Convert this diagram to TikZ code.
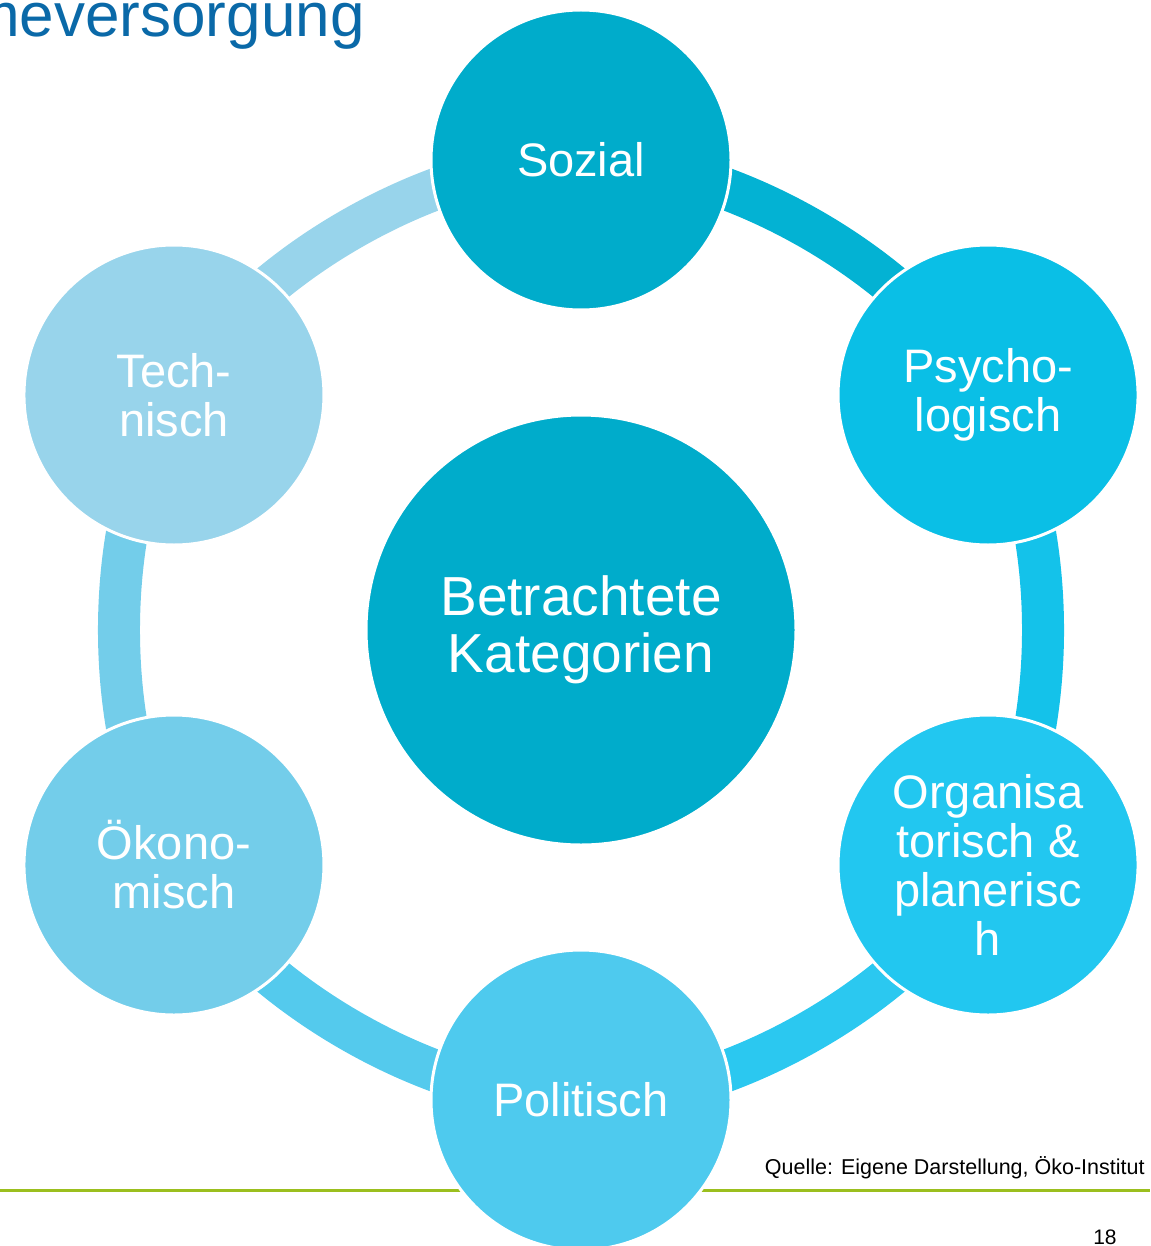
\documentclass[tikz,border=0pt]{standalone}
\usepackage{fontspec}
\setmainfont{Liberation Sans}
\definecolor{titlecolor}{HTML}{0A69A8}
\definecolor{sozialcolor}{HTML}{00ACCB}
\definecolor{psychocolor}{HTML}{0ABFE6}
\definecolor{orgacolor}{HTML}{22C7F0}
\definecolor{politcolor}{HTML}{4ECAEE}
\definecolor{oekocolor}{HTML}{73CDEA}
\definecolor{techcolor}{HTML}{98D4EB}
\definecolor{rulecolor}{HTML}{9BBF1E}
\usetikzlibrary{backgrounds}
\tikzset{
	cat/.style={
		circle,
		draw=white,
		line width=1.5pt,
		minimum size=150pt,
		inner sep=0pt,
		text=white,
		align=center,
		font=\fontsize{23.5}{24.5}\selectfont
	},
	core/.style={
		cat,
		minimum size=215pt,
		font=\fontsize{27.5}{28.5}\selectfont
	},
	link/.style={
		line width=21pt,
		bend left=30,
		looseness=0.8
	},
	caption/.style={
		inner sep=0pt,
		text=black
	},
}

\begin{document}
\begin{tikzpicture}[x=0.5pt,y=-0.5pt]
\path[use as bounding box,clip] (0,0) rectangle (1150,1246);

% title, cut at the left edge
\node [caption,anchor=base east,text=titlecolor,font=\fontsize{31}{37}\selectfont] (title) at (365,37) {meversorgung};

% center and the six categories
\node [core,fill=sozialcolor] (ctr) at (581,630) {Betrachtete\\Kategorien};
\node [cat,fill=sozialcolor] (soz) at ([shift={(-90:470)}]ctr.center) {Sozial};
\node [cat,fill=psychocolor] (psy) at ([shift={(-30:470)}]ctr.center) {Psycho-\\logisch};
\node [cat,fill=orgacolor] (org) at ([shift={(30:470)}]ctr.center) {Organisa\\torisch \&\\planerisc\\h};
\node [cat,fill=politcolor] (pol) at ([shift={(90:470)}]ctr.center) {Politisch};
\node [cat,fill=oekocolor] (oek) at ([shift={(150:470)}]ctr.center) {Ökono-\\misch};
\node [cat,fill=techcolor] (tec) at ([shift={(210:470)}]ctr.center) {Tech-\\nisch};

\begin{scope}[on background layer]
\draw[rulecolor,line width=1.5pt] (0,1190.7) -- (1150,1190.7);
\draw[link,draw=sozialcolor!70!psychocolor] (soz.center) to (psy.center);
\draw[link,draw=psychocolor!60!orgacolor] (psy.center) to (org.center);
\draw[link,draw=orgacolor!80!politcolor] (org.center) to (pol.center);
\draw[link,draw=politcolor!85!oekocolor] (pol.center) to (oek.center);
\draw[link,draw=oekocolor] (oek.center) to (tec.center);
\draw[link,draw=techcolor] (tec.center) to (soz.center);
\end{scope}

\node [caption,anchor=base east,font=\fontsize{10.75}{13}\selectfont] (quelle) at (1145,1174) {Quelle: Eigene Darstellung, Öko-Institut};
\node [caption,anchor=base east,font=\fontsize{10.5}{13}\selectfont] (page) at (1117,1244) {18};
\end{tikzpicture}
\end{document}
